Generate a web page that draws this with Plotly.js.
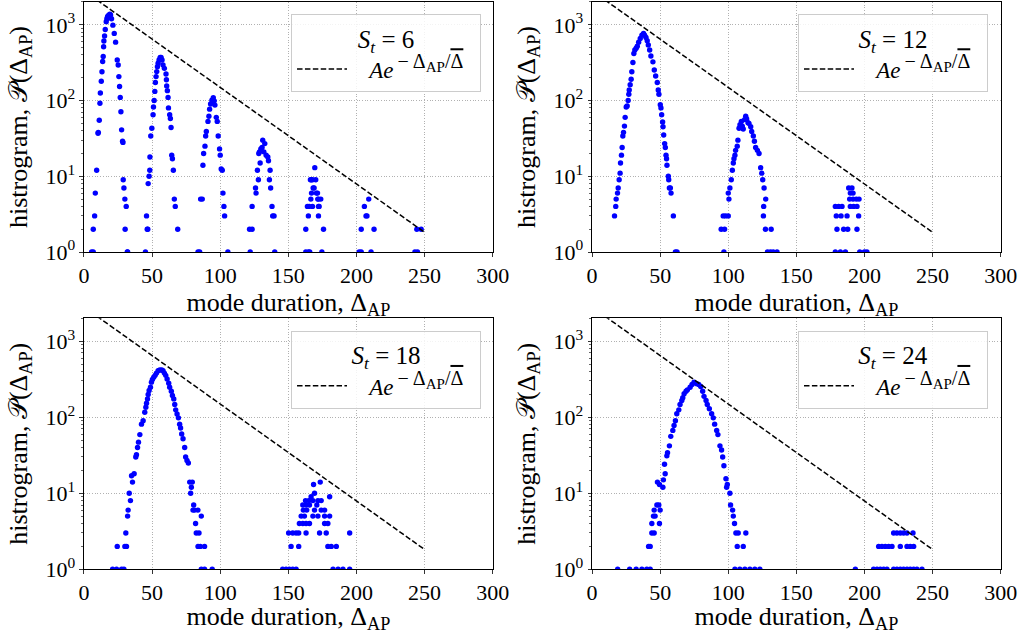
<!DOCTYPE html>
<html><head><meta charset="utf-8">
<script src="https://cdn.plot.ly/plotly-3.0.1.min.js"></script>
<style>html,body{margin:0;padding:0;background:#fff}</style>
</head><body><div id="chart" style="width:1025px;height:634px"></div>
<script>
// ---- data (mode duration, histogram count) ----
const panelLabels = ['6', '12', '18', '24'];

const st6 = [
 [5.6,1],[6.8,1],[6.8,2],[7.8,3],[8.3,6],[9.3,12],[10.3,37],[10.5,38],[11.2,55],[11.7,92],[12,126],[12.7,180],[13.2,240],[13.7,327],[14.1,382],[14.4,514],[14.6,610],[15.1,710],[15.6,866],[16.3,1100],[16.8,1200],[17.3,1275],[17.8,1320],[18.5,1350],[19,1380],[19.5,1350],[20.2,1200],[21.2,990],[22.2,770],[23.2,590],[24.4,343],[25.1,295],[25.6,207],[26.1,153],[26.6,110],[27.1,71],[27.6,41],[28.3,29],[28.6,28],[28.8,9],[29.3,7],[30,5],[30.2,2],[31,4],[31.8,1],[32,1],
 [45.1,1],[45.9,3],[46.4,2],[46.8,2],[47.1,8],[47.8,10],[48.3,12],[48.4,18],[49,34],[49.8,43],[50.7,65],[51,82],[51.5,100],[52,132],[52.4,173],[52.9,207],[53.4,241],[53.9,280],[54.4,310],[55.1,343],[55.9,371],[56.6,371],[57.3,343],[58,295],[59,266],[60.2,224],[60.5,188],[60.7,156],[61.2,135],[61.7,110],[62,80],[62.9,65],[63.4,58],[63.9,44],[64.4,19],[64.9,17],[65.6,12],[66.3,5],[67,4],[68.8,2],
 [83.7,1],[84.9,1],[85.6,5],[86.8,5],[87.3,14],[87.8,20],[88.8,25],[89.3,34],[89.8,39],[91,53],[91.7,62],[92.2,77],[92.9,90],[93.9,101],[94.9,109],[95.6,99],[96.1,87],[97.1,60],[97.8,53],[98.5,34],[99.5,23],[100,19],[100.7,12.5],[101.5,12],[102,6],[102.7,4],[103.2,3],[105.6,1],
 [121.5,2],[122,1],[123.4,2],[123.4,4],[125.9,7],[126.3,6],[127.3,12],[128,9],[128.3,20],[128.8,21],[129.3,15],[129.8,23],[130.7,24],[131.2,30],[132,21],[132.7,27],[133.7,19],[134.9,18],[135.4,16],[136.1,9],[136.6,12],[137,7],[138,4],[138.5,3],[139.5,3],[140,1],
 [162.8,1],[162.8,2],[164,4],[164.7,1],[164.7,3],[165.3,4],[165.7,1],[166.2,9],[166.5,5],[166.8,9],[167,6],[167.7,9],[167.7,4],[168.2,7],[168.9,7],[169.4,13],[170.1,9],[170.6,6],[171.4,6],[171.6,5],[172.1,5],[172.1,3],[172.1,4],[172.6,4],[173.8,5],[174.6,1],[175.8,2],
 [202,1],[203.5,1],[203.5,2],[205.8,4],[207,3],[207.7,3],[209,5],[210.7,1],[212.9,2],
 [242.9,1],[244.3,2],[244.8,1],[247.5,2]
];

const st12 = [
 [16.5,3],[17.4,4],[17.7,5],[18.7,6],[19.2,7],[19.9,9],[20.6,11],[20.9,15],[21.6,19],[22.1,24],[22.6,34],[23.1,38],[23.8,46],[24.3,60],[25.1,82],[25.8,85],[26.5,100],[27,121],[27.3,138],[28,162],[28.7,191],[29.2,240],[30,318],[30.7,418],[31.4,464],[32.4,490],[33.2,522],[34.2,588],[35.4,660],[36.6,731],[37.8,769],[38.6,729],[39.6,680],[40.5,617],[41.3,540],[42.3,464],[43.2,387],[44.7,324],[45.7,253],[46.7,211],[47.9,173],[48.6,138],[49.1,121],[50.1,88],[50.6,80],[51.1,65],[51.8,52],[52.1,45],[52.6,35],[53.3,27],[53.8,24],[54.3,19],[54.7,17],[55,14],[56,10],[56.3,9],[56.8,7],[57.5,7],[58,6],[59.7,3],[61.2,1],[62.4,1],
 [94.8,2],[96.3,3],[96.8,1],[97.3,2],[98,3],[100,3],[100,6],[100.5,5],[101.2,7],[102.2,9],[103,12],[103.7,15],[104.2,17],[104.9,19],[105.4,22],[106.6,25],[107.1,30],[107.9,43],[108.6,48],[109.6,53],[110.3,46],[111,42],[112,56],[112.8,62],[113.5,57],[114.5,51],[115.2,50],[116.5,45],[117.2,39],[118.4,34],[119.2,29],[120.1,24],[121.4,22],[122.6,20],[123.8,13],[124.6,11],[125.3,9],[126.3,7],[127.5,5],[126,4],[125.8,3],[127.3,2],[131.5,2],[128.8,1],[131,1],[133,1],[135.8,1],
 [178.6,1],[182.3,1],[186,1],[179.8,2],[184.7,2],[187.7,2],[194.5,2],[179.3,3],[182.8,3],[187.2,3],[195.7,3],[178.6,4],[181,4],[183.5,4],[189.6,4],[192,4],[194.5,4],[189.1,5],[191.6,5],[194,5],[196,5],[189.6,6],[191.6,6],[188.4,7],[190.8,7],[196.5,1],[199.9,1],[201.8,1]
];

const st18 = [
 [21,1],[23.9,1],[24.4,2],[27.6,1],[29.3,1],[30,2],[30.7,3],[31.2,2],[32,5],[32.4,6],[33.2,10],[34.1,8],[34.9,17],[35.6,14],[36.8,18],[38,30],[38.5,32],[39.3,40],[40,47],[41,59],[42.2,81],[43.4,90],[44.6,116],[45.4,135],[45.9,153],[46.6,174],[47.1,199],[47.8,224],[48.8,248],[49.5,289],[50.2,313],[51.2,336],[52.2,355],[53.2,380],[54.4,408],[55.6,419],[57.1,419],[58,408],[59,380],[60,355],[61,318],[62.2,280],[62.9,248],[64.1,220],[64.9,193],[65.9,174],[66.6,147],[67.3,125],[68.3,110],[69.3,98],[70.2,81],[70.9,72],[71.7,60],[72.7,52],[73.9,40],[74.6,30],[75.6,27],[76.6,25],[77.6,14],[78.3,10],[78.8,12],[79.5,14],[80,6],[80.5,7],[81.2,6],[81.9,4],[82.4,3],[83.6,6],[83.7,2],[84.4,3],[85.4,2],[86.1,5],[86.1,1],[88.5,2],[88.5,1],[94.1,1],
 [145.8,1],[148.3,1],[150.7,1],[153.2,1],[155.7,1],[152,2],[157.6,2],[150.2,3],[153.2,3],[155.7,3],[157.6,3],[163,3],[158.1,4],[160.6,4],[163,4],[165.5,4],[159.4,5],[161.8,5],[161,6],[163.5,6],[160.6,7],[163,7],[165.5,7],[162.6,8],[165,8],[166.7,9],[168,8],[169.2,10],[168.5,13],[168,5],[169.2,6],[170.9,7],[171.7,8],[171.7,5],[173.4,14],[174.1,8],[174.1,6],[172.9,3],[176.6,6],[176.6,5],[176.6,4],[177.8,3],[179,4],[179,2],[180.3,9],[180.3,5],[181.5,2],[185.2,2],[182.8,1],[186.5,1],[190.1,1],[195,3],[195,1]
];

const st24 = [
 [18.8,1],[27.6,1],[32.4,1],[36.6,1],[40.2,1],[41.5,2],[42.7,2],[42.7,1],[43.9,3],[43.9,4],[45.1,5],[45.6,3],[45.6,6],[46.3,5],[47.6,7],[48,14],[49,7],[49.5,13],[49.5,4],[50,6],[52,12],[52.4,15],[53.2,24],[53.7,18],[54.9,31],[55.4,34],[56.8,42],[57.8,56],[59.3,67],[60.2,78],[61.2,90],[62.2,111],[63.7,125],[64.6,147],[65.9,166],[66.6,180],[67.6,203],[69,219],[70,229],[72,248],[73.4,269],[74.9,289],[76.8,276],[78.3,269],[79.8,253],[81.2,219],[82.2,188],[83.7,166],[84.6,147],[86.1,129],[87.8,111],[89,98],[90,81],[91.5,67],[92.4,59],[93.9,42],[95.1,37],[95.9,30],[96.8,23],[98.3,15.5],[98.8,12],[99.3,13],[101.2,10],[101.7,7],[103.2,6],[103.7,5],[104.6,4],[104.9,1],[105.6,3],[106.6,2],[107.3,3],[108.5,1],[111,2],[112.2,1],[112.9,3],[115.9,1],[119.5,1],[123.2,1],
 [193.3,1],[206.7,1],[209.2,1],[211.6,1],[214.1,1],[216.5,1],[221.4,1],[223.8,1],[226.3,1],[228.7,1],[231.2,1],[233.6,1],[236.1,1],[238.5,1],[242.2,1],
 [210.4,2],[212.8,2],[215.3,2],[217.7,2],[220.2,2],[226.3,2],[231.2,2],[233.6,2],[236.1,2],
 [221.4,3],[223.8,3],[226.3,3],[228.7,3],[231.2,3],[235.6,3]
];

// exponential guide line A*exp(-x/Dbar), endpoints
const fitX = [0, 250];
const fitY = [2810, 1.82];

const xTickVals = [0, 50, 100, 150, 200, 250, 300];
const yTickVals = [1, 10, 100, 1000];
const yTickText = ['10<sup>0</sup>', '10<sup>1</sup>', '10<sup>2</sup>', '10<sup>3</sup>'];
const yMinorVals = [2,3,4,5,6,7,8,9,20,30,40,50,60,70,80,90,200,300,400,500,600,700,800,900,2000];

const xLabel = 'mode duration, Δ<sub>AP</sub>';
const yLabel = 'histrogram, 𝒫(Δ<sub>AP</sub>)';
const fitLabel = '\u00a0\u00a0\u00a0<i>Ae</i><sup><span style="font-size:20px">\u2009−\u2009Δ<sub><span style="font-size:15px">AP</span></sub>/<span style="text-decoration:overline">Δ</span></span></sup>\u00a0\u00a0';

// ---- build ----
const FONT = 'Liberation Serif, Times New Roman, serif';
const TICK = 22, TITLE = 26;
const panels = [st6, st12, st18, st24];
const xDom = [[0.08195, 0.4807], [0.5776, 0.9763]];
const yDom = [[0.6025, 0.99685], [0.1021, 0.4980]];
const legendPos = [[0.4693, 0.9779], [0.9639, 0.9779], [0.4693, 0.4784], [0.9639, 0.4784]];

const traces = [];
const layout = {
  width: 1025, height: 634,
  margin: {l: 0, r: 0, t: 0, b: 0},
  paper_bgcolor: '#ffffff', plot_bgcolor: '#ffffff',
  font: {family: FONT, size: TICK, color: '#000'},
  showlegend: true
};

panels.forEach((pts, i) => {
  const n = i + 1;
  const xa = 'x' + (n === 1 ? '' : n), ya = 'y' + (n === 1 ? '' : n);
  const legendId = 'legend' + (n === 1 ? '' : n);
  traces.push({
    type: 'scatter', mode: 'markers', xaxis: xa, yaxis: ya,
    x: pts.map(p => p[0]), y: pts.map(p => p[1]),
    marker: {color: '#0000ff', size: 5.4, line: {width: 0}},
    showlegend: false, hoverinfo: 'x+y'
  });
  traces.push({
    type: 'scatter', mode: 'lines', xaxis: xa, yaxis: ya,
    x: fitX, y: fitY, name: fitLabel, legend: legendId,
    line: {color: '#000', width: 1.5, dash: '5.5px,2.4px'},
    showlegend: true
  });
  const col = i % 2, row = Math.floor(i / 2);
  const axCommon = {
    showline: true, linecolor: '#000', linewidth: 1, mirror: true,
    ticks: 'outside', ticklen: 3.5, tickwidth: 0.8, tickcolor: '#000',
    showgrid: true, gridcolor: '#a8a8a8', griddash: '1px,1.7px', gridwidth: 0.9,
    zeroline: false, tickfont: {family: FONT, size: TICK, color: '#000'}
  };
  layout['xaxis' + (n === 1 ? '' : n)] = Object.assign({}, axCommon, {
    domain: xDom[col], anchor: ya, range: [0, 300],
    tickmode: 'array', tickvals: xTickVals,
    title: {text: xLabel, font: {family: FONT, size: TITLE}, standoff: 0}
  });
  layout['yaxis' + (n === 1 ? '' : n)] = Object.assign({}, axCommon, {
    domain: yDom[row], anchor: xa, type: 'log', range: [0, Math.log10(2000)],
    tickmode: 'array', tickvals: yTickVals, ticktext: yTickText,
    minor: {tickmode: 'array', tickvals: yMinorVals, ticks: 'outside', ticklen: 2, tickwidth: 0.6, tickcolor: '#000', showgrid: false},
    title: {text: yLabel, font: {family: FONT, size: TITLE}, standoff: 10}
  });
  layout[legendId] = {
    x: legendPos[i][0], y: legendPos[i][1], xanchor: 'right', yanchor: 'top',
    xref: 'paper', yref: 'paper',
    bgcolor: 'rgba(255,255,255,0.85)', bordercolor: '#cccccc', borderwidth: 1,
    font: {family: FONT, size: 23, color: '#000'},
    itemwidth: 50,
    title: {text: '<i>S</i><sub><i>t</i></sub> = ' + panelLabels[i], side: 'top center', font: {family: FONT, size: 25}}
  };
});

Plotly.newPlot('chart', traces, layout, {displayModeBar: false, staticPlot: true});
</script>
</body></html>
